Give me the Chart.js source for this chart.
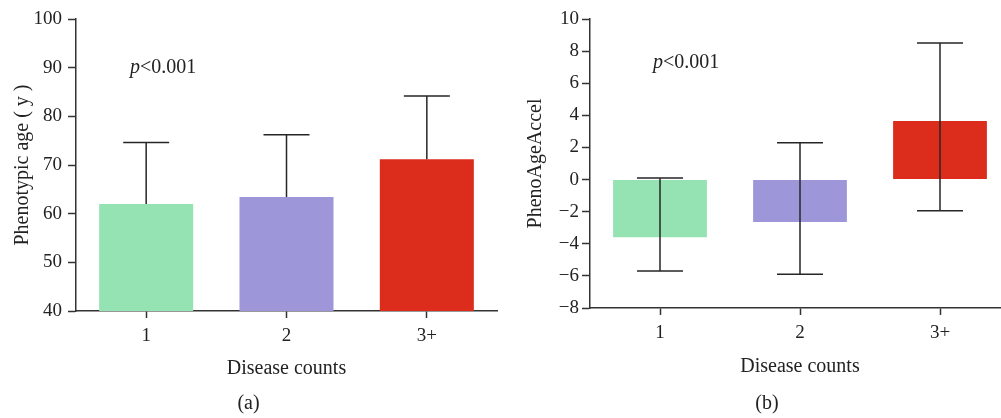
<!DOCTYPE html>
<html>
<head>
<meta charset="utf-8">
<script src="https://cdn.jsdelivr.net/npm/chart.js@4.4.0/dist/chart.umd.min.js"></script>
<style>
  html, body { margin: 0; padding: 0; background: #fff; overflow: hidden; width: 1001px; height: 418px; }
  #wrapA { position: absolute; left: 0; top: 0; width: 500px; height: 418px; }
  #wrapB { position: absolute; left: 524px; top: 0; width: 500px; height: 418px; }
</style>
</head>
<body>
<div id="wrapA"><canvas id="chartA" width="500" height="418"></canvas></div>
<div id="wrapB"><canvas id="chartB" width="500" height="418"></canvas></div>
<script>
/* Data */
const diseaseCounts = ['1', '2', '3+'];
const barColors = ['#95e3b3', '#9d96d9', '#dc2c1c'];

// (a) phenotypic age: mean bar + upper whisker
const phenoAgeMean = [62.0, 63.4, 71.2];
const phenoAgeUpper = [74.6, 76.2, 84.2];

// (b) PhenoAgeAccel: bar + whisker range
const accelValue = [-3.6, -2.65, 3.65];
const accelLower = [-5.7, -5.9, -1.95];
const accelUpper = [0.1, 2.3, 8.5];

const serif = '"Liberation Serif", "Times New Roman", serif';
const ink = '#222';
const axisInk = '#333';

/* Whiskers drawn from the bar (or lower value) up to the upper value */
const errorBars = {
  id: 'errorBars',
  afterDatasetsDraw(chart, args, opts) {
    const { ctx, scales: { x, y } } = chart;
    ctx.save();
    ctx.strokeStyle = '#262626';
    ctx.lineWidth = 1.5;
    opts.high.forEach((hi, i) => {
      const px = x.getPixelForValue(i);
      const y1 = y.getPixelForValue(opts.low[i]);
      const y2 = y.getPixelForValue(hi);
      ctx.beginPath();
      ctx.moveTo(px, y1);
      ctx.lineTo(px, y2);
      ctx.moveTo(px - 23, y2);
      ctx.lineTo(px + 23, y2);
      if (opts.lowCap) {
        ctx.moveTo(px - 23, y1);
        ctx.lineTo(px + 23, y1);
      }
      ctx.stroke();
    });
    ctx.restore();
  }
};

/* "p<0.001" note with italic p */
const pNote = {
  id: 'pNote',
  afterDraw(chart, args, opts) {
    const { ctx, chartArea } = chart;
    const x0 = chartArea.left + opts.dx;
    const y0 = chartArea.top + opts.dy;
    ctx.save();
    ctx.fillStyle = ink;
    ctx.textBaseline = 'alphabetic';
    ctx.font = 'italic 20px ' + serif;
    ctx.fillText('p', x0, y0);
    const w = ctx.measureText('p').width;
    ctx.font = '20px ' + serif;
    ctx.fillText('<0.001', x0 + w, y0);
    ctx.restore();
  }
};

function makeScales(yOpts, yTitle, yTitlePad, xHeight, xTitlePad, yWidth) {
  return {
    x: {
      grid: { offset: false, drawOnChartArea: false, drawTicks: true, tickLength: 7, tickWidth: 1.5, tickColor: axisInk },
      border: { color: axisInk, width: 1.5 },
      ticks: { color: ink, font: { family: serif, size: 19 }, padding: 7 },
      title: { display: true, text: 'Disease counts', color: ink, font: { family: serif, size: 20 }, padding: { top: 0, bottom: xTitlePad } },
      afterFit: s => { s.height = xHeight; }
    },
    y: Object.assign({
      grid: { drawOnChartArea: false, drawTicks: true, tickLength: 8, tickWidth: 1.5, tickColor: axisInk },
      border: { color: axisInk, width: 1.5 },
      title: { display: true, text: yTitle, color: ink, font: { family: serif, size: 20 }, padding: { top: yTitlePad, bottom: 0 } },
      afterFit: s => { s.width = yWidth; }
    }, yOpts)
  };
}

function panelTitle(text) {
  return {
    display: true, text: text, position: 'bottom', color: ink,
    font: { family: serif, size: 20, weight: 'normal' },
    padding: { top: 4, bottom: 2 }
  };
}

new Chart(document.getElementById('chartA'), {
  type: 'bar',
  data: {
    labels: diseaseCounts,
    datasets: [{ data: phenoAgeMean, backgroundColor: barColors, borderWidth: 0,
                 categoryPercentage: 1, barPercentage: 0.67 }]
  },
  options: {
    responsive: false,
    animation: false,
    layout: { padding: { left: 0, right: 3, top: 19, bottom: 0 } },
    plugins: {
      legend: { display: false },
      tooltip: { enabled: false },
      title: panelTitle('(a)'),
      errorBars: { low: phenoAgeMean, high: phenoAgeUpper, lowCap: false },
      pNote: { dx: 54, dy: 54 }
    },
    scales: makeScales({
      min: 40, max: 100,
      ticks: { stepSize: 10, color: ink, font: { family: serif, size: 19 }, padding: 6 }
    }, 'Phenotypic age ( y )', 11, 77, 7, 76)
  },
  plugins: [errorBars, pNote]
});

new Chart(document.getElementById('chartB'), {
  type: 'bar',
  data: {
    labels: diseaseCounts,
    datasets: [{ data: accelValue, backgroundColor: barColors, borderWidth: 0,
                 categoryPercentage: 1, barPercentage: 0.67 }]
  },
  options: {
    responsive: false,
    animation: false,
    layout: { padding: { left: 0, right: 14, top: 19, bottom: 0 } },
    plugins: {
      legend: { display: false },
      tooltip: { enabled: false },
      title: panelTitle('(b)'),
      errorBars: { low: accelLower, high: accelUpper, lowCap: true },
      pNote: { dx: 63, dy: 49 }
    },
    scales: makeScales({
      min: -8, max: 10,
      ticks: { stepSize: 2, color: ink, font: { family: serif, size: 19 }, padding: 3,
               callback: v => String(v).replace('-', '\u2212') }
    }, 'PhenoAgeAccel', 0, 80, 9, 66)
  },
  plugins: [errorBars, pNote]
});
</script>
</body>
</html>
